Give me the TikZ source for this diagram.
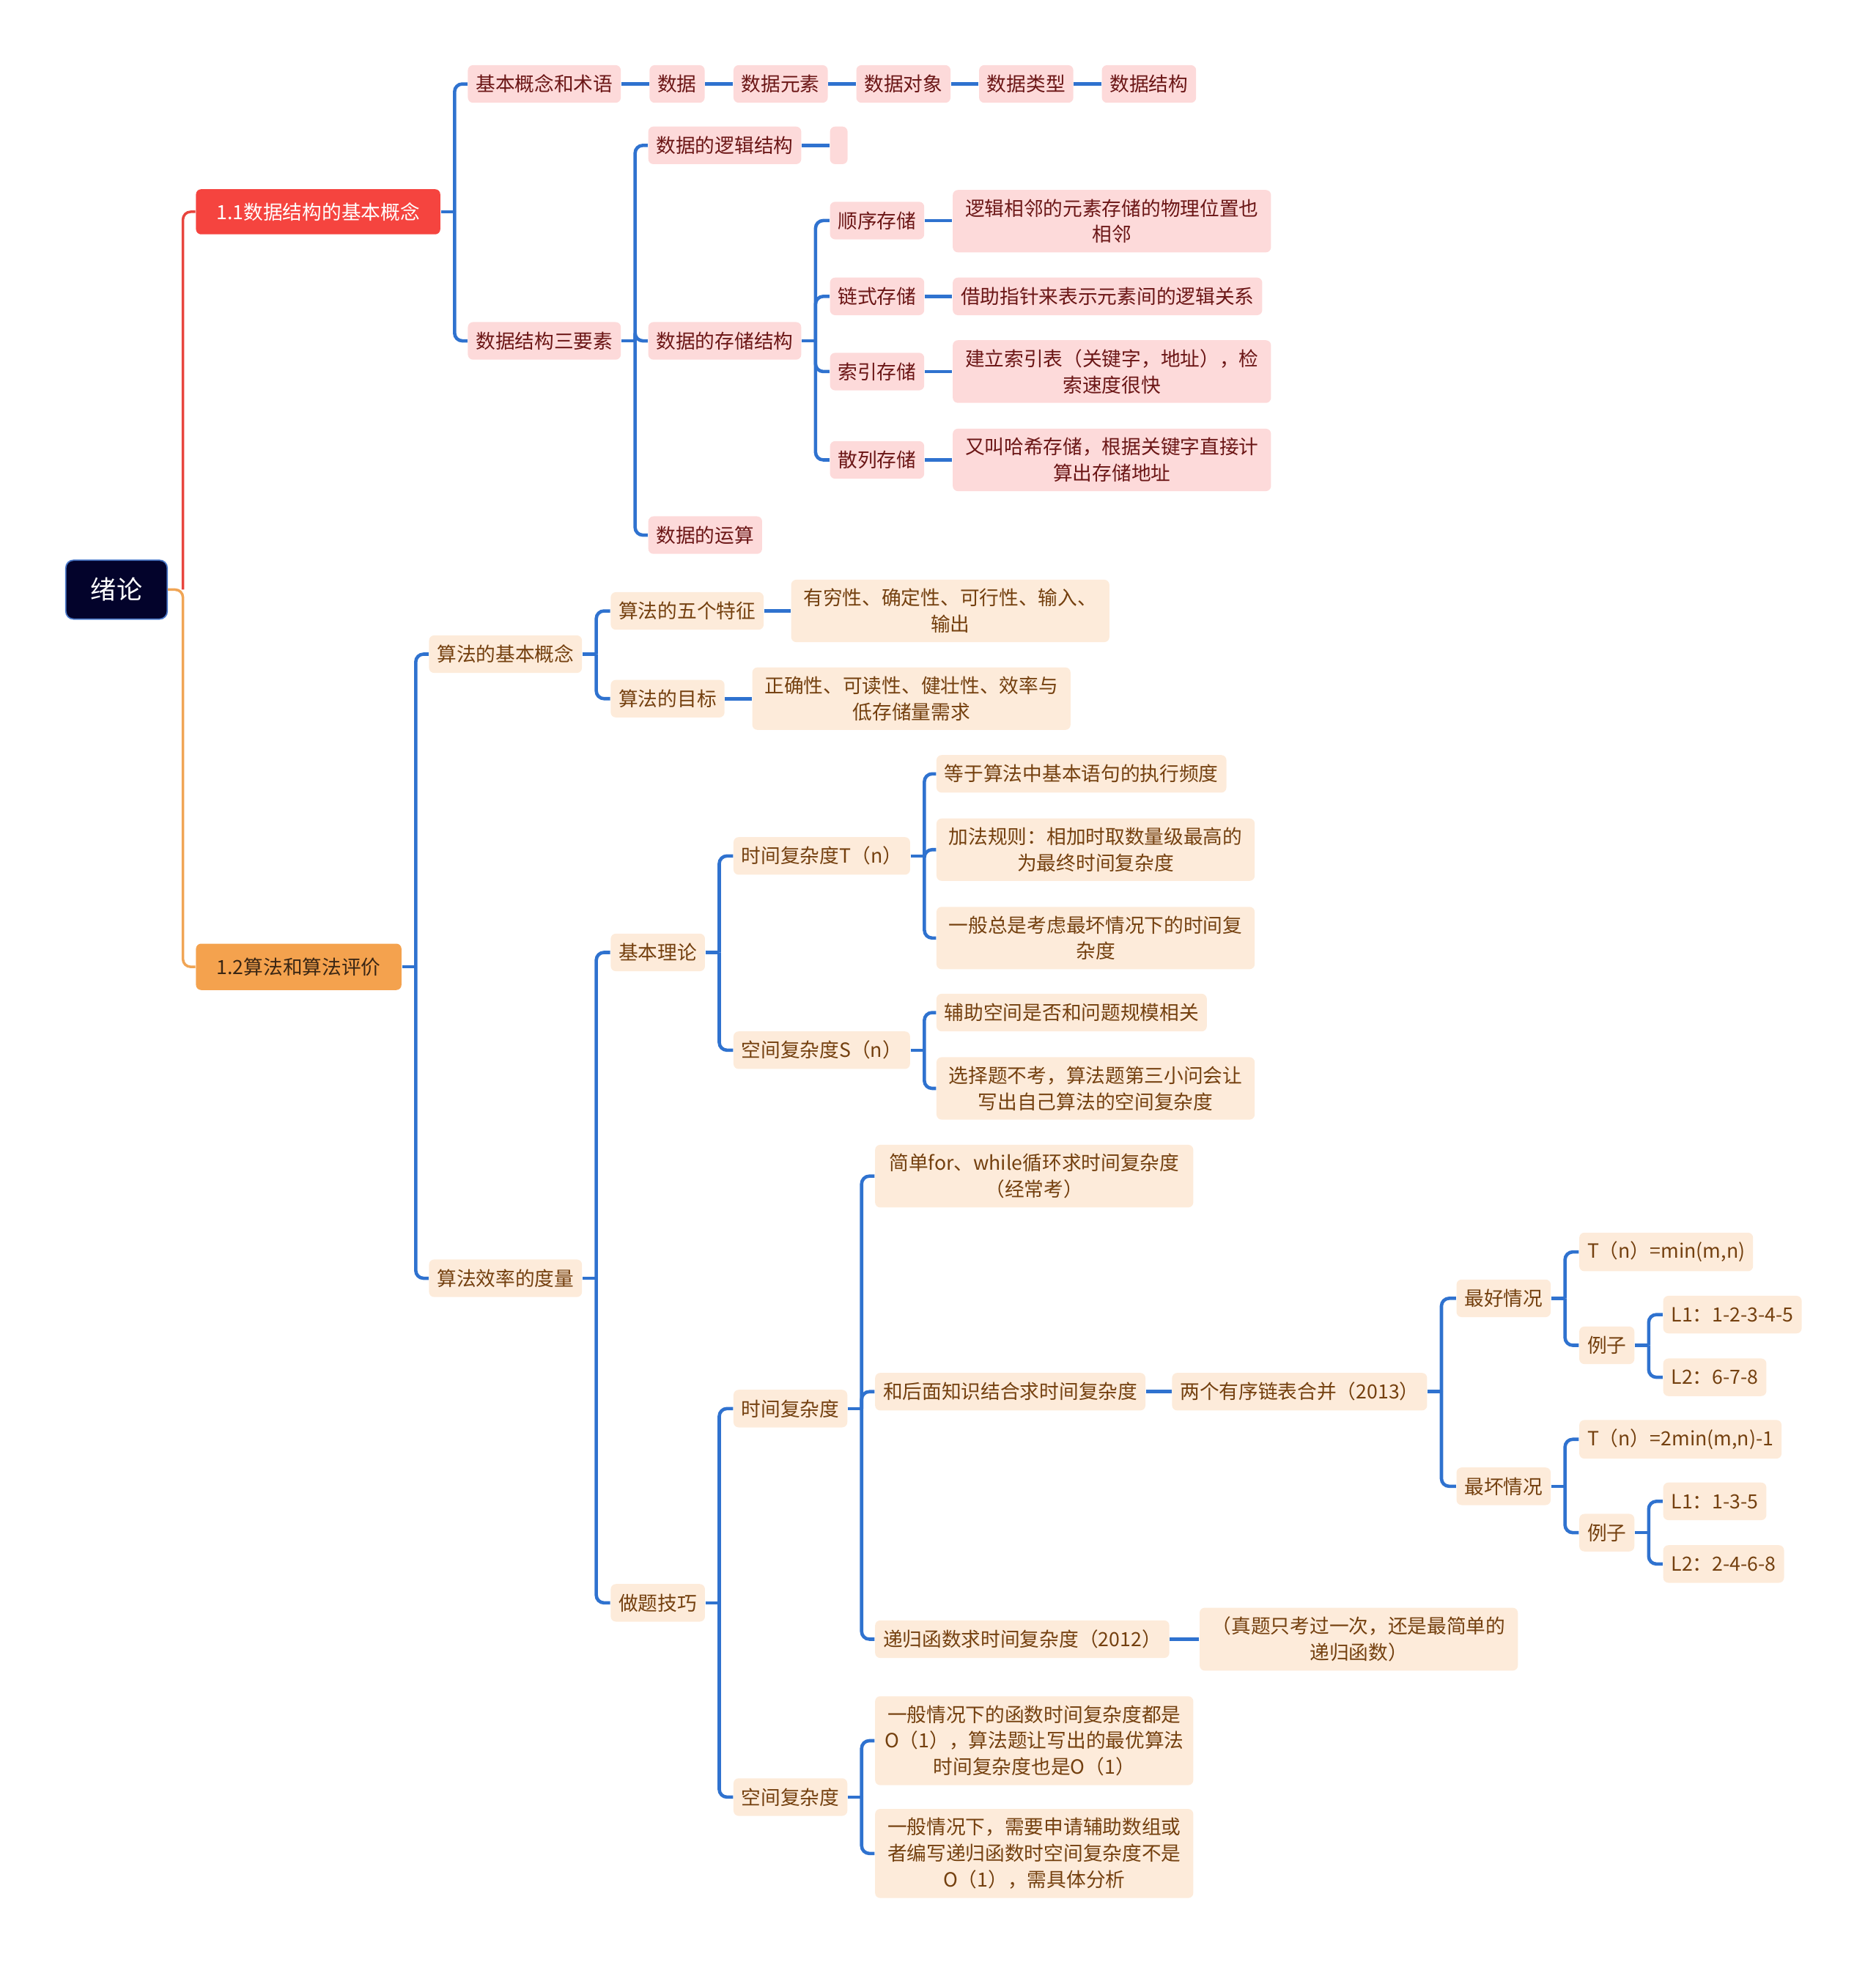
\documentclass[tikz,border=0pt]{standalone}
\usepackage{fontspec}
\setmainfont{Noto Sans CJK SC}
\usepackage{xcolor}
\usepackage{tikz}
\usetikzlibrary{calc}
\definecolor{rootfill}{HTML}{03032B}
\definecolor{rootedge}{HTML}{4A78C8}
\definecolor{redfill}{HTML}{F5443F}
\definecolor{orangefill}{HTML}{F4A24E}
\definecolor{orangetext}{HTML}{3A2614}
\definecolor{pinkfill}{HTML}{FDDADA}
\definecolor{pinktext}{HTML}{6B1616}
\definecolor{beigefill}{HTML}{FDEBDA}
\definecolor{beigetext}{HTML}{74400F}
\definecolor{lineblue}{HTML}{2F72CF}
\definecolor{linered}{HTML}{E8453E}
\definecolor{lineorange}{HTML}{F0A555}

\begin{document}
\begin{tikzpicture}[x=0.017101cm, y=-0.017101cm,
  every node/.style={anchor=west, rounded corners=2pt, inner xsep=3.1pt, inner ysep=3.5pt,
    minimum height=0.513cm, font=\fontsize{7.6pt}{10.2pt}\selectfont},
  pinkbox/.style={fill=pinkfill, text=pinktext},
  beigebox/.style={fill=beigefill, text=beigetext},
  note/.style={align=center, minimum width=4.344cm},
  bline/.style={draw=lineblue, line width=1.3pt, rounded corners=3pt},
  rootline/.style={line width=1pt, rounded corners=3pt}]
\useasboundingbox (0,0) rectangle (1497,1568);
% root and main branches
\node[fill=rootfill, draw=rootedge, line width=0.5pt, text=white, rounded corners=3pt,
  minimum width=1.385cm, minimum height=0.804cm, font=\fontsize{10pt}{12pt}\selectfont] (root) at (52,470.5) {绪论};
\node[fill=redfill, text=white, minimum width=3.335cm, minimum height=0.616cm] (c1) at (156,169) {1.1数据结构的基本概念};
\node[fill=orangefill, text=orangetext, minimum width=2.805cm, minimum height=0.633cm] (c2) at (156,771.5) {1.2算法和算法评价};
% 1.1
\node[pinkbox] (a1) at (373,67) {基本概念和术语};
\node[pinkbox] (a1a) at (518,67) {数据};
\node[pinkbox] (a1b) at (585,67) {数据元素};
\node[pinkbox] (a1c) at (683,67) {数据对象};
\node[pinkbox] (a1d) at (781,67) {数据类型};
\node[pinkbox] (a1e) at (879,67) {数据结构};
\node[pinkbox] (a2) at (373,272) {数据结构三要素};
\node[pinkbox] (b1) at (517,116) {数据的逻辑结构};
\node[pinkbox, inner xsep=0pt, minimum width=0.24cm] (b1x) at (662,116) {};
\node[pinkbox] (b2) at (517,272) {数据的存储结构};
\node[pinkbox] (s1) at (662,176) {顺序存储};
\node[pinkbox, note] (s1n) at (760,176.5) {逻辑相邻的元素存储的物理位置也\\相邻};
\node[pinkbox] (s2) at (662,236.5) {链式存储};
\node[pinkbox] (s2n) at (760,236.5) {借助指针来表示元素间的逻辑关系};
\node[pinkbox] (s3) at (662,296.5) {索引存储};
\node[pinkbox, note] (s3n) at (760,296.5) {建立索引表（关键字，地址），检\\索速度很快};
\node[pinkbox] (s4) at (662,367) {散列存储};
\node[pinkbox, note] (s4n) at (760,367) {又叫哈希存储，根据关键字直接计\\算出存储地址};
\node[pinkbox] (b3) at (517,427) {数据的运算};
% 1.2
\node[beigebox] (d1) at (342,522) {算法的基本概念};
\node[beigebox] (e1) at (487,487.5) {算法的五个特征};
\node[beigebox, note] (e1n) at (631,487.5) {有穷性、确定性、可行性、输入、\\输出};
\node[beigebox] (e2) at (487,557.5) {算法的目标};
\node[beigebox, note] (e2n) at (600,557.5) {正确性、可读性、健壮性、效率与\\低存储量需求};
\node[beigebox] (d2) at (342,1020) {算法效率的度量};
\node[beigebox] (f1) at (487,760) {基本理论};
\node[beigebox] (g1) at (585,683) {时间复杂度T（n）};
\node[beigebox] (h1) at (747,617.5) {等于算法中基本语句的执行频度};
\node[beigebox, note] (h2) at (747,678) {加法规则：相加时取数量级最高的\\为最终时间复杂度};
\node[beigebox, note] (h3) at (747,748.5) {一般总是考虑最坏情况下的时间复\\杂度};
\node[beigebox] (g2) at (585,838) {空间复杂度S（n）};
\node[beigebox] (h4) at (747,808) {辅助空间是否和问题规模相关};
\node[beigebox, note] (h5) at (747,868.5) {选择题不考，算法题第三小问会让\\写出自己算法的空间复杂度};
\node[beigebox] (f2) at (487,1279) {做题技巧};
\node[beigebox] (g3) at (585,1124) {时间复杂度};
\node[beigebox, note] (i1) at (698,938.5) {简单for、while循环求时间复杂度\\（经常考）};
\node[beigebox] (i2) at (698,1110.5) {和后面知识结合求时间复杂度};
\node[beigebox] (j1) at (935,1110.5) {两个有序链表合并（2013）};
\node[beigebox] (k1) at (1162,1036) {最好情况};
\node[beigebox] (l1) at (1260,999) {T（n）=min(m,n)};
\node[beigebox] (l2) at (1260,1073.5) {例子};
\node[beigebox] (m1) at (1327,1049) {L1：1-2-3-4-5};
\node[beigebox] (m2) at (1327,1099) {L2：6-7-8};
\node[beigebox] (k2) at (1162,1186) {最坏情况};
\node[beigebox] (l3) at (1260,1148.5) {T（n）=2min(m,n)-1};
\node[beigebox] (l4) at (1260,1223) {例子};
\node[beigebox] (m3) at (1327,1198) {L1：1-3-5};
\node[beigebox] (m4) at (1327,1248) {L2：2-4-6-8};
\node[beigebox] (i3) at (698,1308) {递归函数求时间复杂度（2012）};
\node[beigebox, note] (j2) at (957,1308) {（真题只考过一次，还是最简单的\\递归函数）};
\node[beigebox] (g4) at (585,1434) {空间复杂度};
\node[beigebox, note] (i4) at (698,1389) {一般情况下的函数时间复杂度都是\\O（1），算法题让写出的最优算法\\时间复杂度也是O（1）};
\node[beigebox, note] (i5) at (698,1479) {一般情况下，需要申请辅助数组或\\者编写递归函数时空间复杂度不是\\O（1），需具体分析};
% connectors
\draw[rootline, draw=lineorange] (root.east) -- ++(12,0) coordinate (root-s) |- (c2.west);
\draw[rootline, draw=linered] (root-s) |- (c1.west);
\foreach \p/\kids in {c1/{a1,a2}, a2/{b1,b2,b3}, b2/{s1,s2,s3,s4}, c2/{d1,d2}, d1/{e1,e2},
    d2/{f1,f2}, f1/{g1,g2}, g1/{h1,h2,h3}, g2/{h4,h5}, f2/{g3,g4}, g3/{i1,i2,i3},
    j1/{k1,k2}, k1/{l1,l2}, l2/{m1,m2}, k2/{l3,l4}, l4/{m3,m4}, g4/{i4,i5}}{
  \draw[bline] (\p.east) -- ++(11,0) coordinate (\p-s);
  \foreach \k in \kids \draw[bline] (\p-s) |- (\k.west);
}
\foreach \a/\b in {a1/a1a, a1a/a1b, a1b/a1c, a1c/a1d, a1d/a1e, b1/b1x, s1/s1n, s2/s2n,
    s3/s3n, s4/s4n, e1/e1n, e2/e2n, i2/j1, i3/j2}
  \draw[bline] (\a.east) -- (\a.east -| \b.west);
\end{tikzpicture}
\end{document}
